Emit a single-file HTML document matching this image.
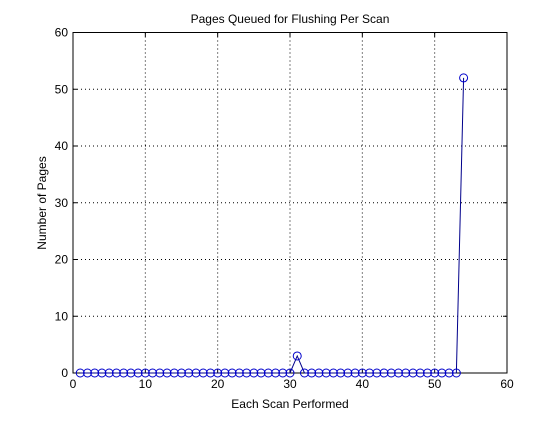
<!DOCTYPE html>
<html><head><style>
body{margin:0;background:#fff;}
svg text{font-family:"Liberation Sans",sans-serif;font-size:12px;fill:#000;}
</style></head><body>
<svg width="560" height="420" id="c">
<rect x="0" y="0" width="560" height="420" fill="#fff"/>
<text x="290" y="23" text-anchor="middle">Pages Queued for Flushing Per Scan</text>
<text x="290" y="408" text-anchor="middle">Each Scan Performed</text>
<text transform="translate(46,203) rotate(-90)" text-anchor="middle">Number of Pages</text>
<g id="grid"></g>
<g id="ticks"></g>
<rect x="73" y="32.5" width="434" height="340.5" fill="none" stroke="#000"/>
<g id="series"></g>
</svg>
<script>
const xTicks=[0,10,20,30,40,50,60];
const yTicks=[0,10,20,30,40,50,60];
const scanIdx=[];for(let i=1;i<=54;i++)scanIdx.push(i);
const pages=[0,0,0,0,0,0,0,0,0,0,0,0,0,0,0,0,0,0,0,0,0,0,0,0,0,0,0,0,0,0,3,0,0,0,0,0,0,0,0,0,0,0,0,0,0,0,0,0,0,0,0,0,0,52];
const L=73,R=507,T=32.5,B=373;
const sx=v=>L+(v-0)/60*(R-L), sy=v=>B-(v-0)/60*(B-T);
const NS='http://www.w3.org/2000/svg';
function mk(t,a,p){const e=document.createElementNS(NS,t);for(const k in a)e.setAttribute(k,a[k]);p.appendChild(e);return e;}
const g=document.getElementById('grid'),tk=document.getElementById('ticks'),s=document.getElementById('series');
xTicks.forEach(v=>{const x=sx(v);
 if(v>0&&v<60){const l=mk('line',{x1:x,y1:T,x2:x,y2:B,stroke:'#000','stroke-dasharray':'1,3'},g);
 
 }
 const t=mk('text',{x:x,y:B+15,'text-anchor':'middle'},tk);t.textContent=v;
 
 
 mk('line',{x1:x,y1:B,x2:x,y2:B-4,stroke:'#000'},tk);mk('line',{x1:x,y1:T,x2:x,y2:T+4,stroke:'#000'},tk);});
yTicks.forEach(v=>{const y=sy(v);
 if(v>0&&v<60){const l=mk('line',{x1:L,y1:y,x2:R,y2:y,stroke:'#000','stroke-dasharray':'1,3'},g);
 
 }
 const t=mk('text',{x:L-5,y:y+4,'text-anchor':'end'},tk);t.textContent=v;
 
 
 mk('line',{x1:L,y1:y,x2:L+4,y2:y,stroke:'#000'},tk);mk('line',{x1:R,y1:y,x2:R-4,y2:y,stroke:'#000'},tk);});
const pts=scanIdx.map((x,i)=>sx(x)+','+sy(pages[i])).join(' ');
const pl=mk('polyline',{points:pts,fill:'none',stroke:'#00008b','stroke-width':1},s);


scanIdx.forEach((x,i)=>{const c=mk('circle',{cx:sx(x),cy:sy(pages[i]),r:4,fill:'none',stroke:'#0000cc','stroke-width':1},s);
 
 });
</script>
</body></html>
